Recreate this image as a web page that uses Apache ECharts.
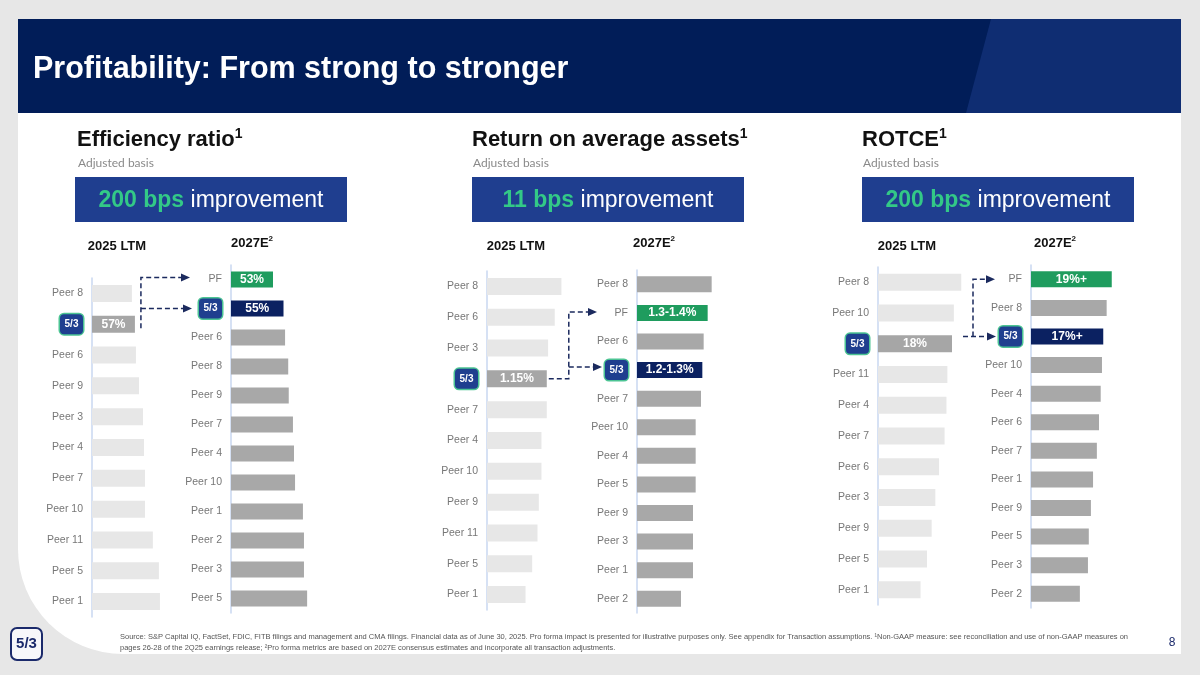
<!DOCTYPE html>
<html><head><meta charset="utf-8">
<script src="https://cdn.jsdelivr.net/npm/echarts@6/dist/echarts.min.js"></script>
<style>html,body{margin:0;padding:0;background:#e7e7e7}#c{width:1200px;height:675px}</style>
</head><body><div id="c"></div>
<script>
// ---------------- DATA ----------------
const effLtmCats = ['Peer 8','FITB','Peer 6','Peer 9','Peer 3','Peer 4','Peer 7','Peer 10','Peer 11','Peer 5','Peer 1'];
const effLtmVals = [55.8,57,57.4,58.6,60.2,60.6,61.0,61.0,64.1,66.5,66.9];
const effLtmLabels = {FITB:'57%'};
const effEstCats = ['PF','FITB','Peer 6','Peer 8','Peer 9','Peer 7','Peer 4','Peer 10','Peer 1','Peer 2','Peer 3','Peer 5'];
const effEstVals = [53,55,55.3,55.9,56.0,56.8,57.0,57.2,58.7,58.9,58.9,59.5];
const effEstLabels = {PF:'53%', FITB:'55%'};

const roaaLtmCats = ['Peer 8','Peer 6','Peer 3','FITB','Peer 7','Peer 4','Peer 10','Peer 9','Peer 11','Peer 5','Peer 1'];
const roaaLtmVals = [1.26,1.21,1.16,1.15,1.15,1.11,1.11,1.09,1.08,1.04,0.99];
const roaaLtmLabels = {FITB:'1.15%'};
const roaaEstCats = ['Peer 8','PF','Peer 6','FITB','Peer 7','Peer 10','Peer 4','Peer 5','Peer 9','Peer 3','Peer 1','Peer 2'];
const roaaEstVals = [1.36,1.33,1.30,1.29,1.28,1.24,1.24,1.24,1.22,1.22,1.22,1.13];
const roaaEstLabels = {PF:'1.3-1.4%', FITB:'1.2-1.3%'};

const rotceLtmCats = ['Peer 8','Peer 10','FITB','Peer 11','Peer 4','Peer 7','Peer 6','Peer 3','Peer 9','Peer 5','Peer 1'];
const rotceLtmVals = [19.0,18.2,18,17.5,17.4,17.2,16.6,16.2,15.8,15.3,14.6];
const rotceLtmLabels = {FITB:'18%'};
const rotceEstCats = ['PF','Peer 8','FITB','Peer 10','Peer 4','Peer 6','Peer 7','Peer 1','Peer 9','Peer 5','Peer 3','Peer 2'];
const rotceEstVals = [19,17.8,17,16.7,16.4,16.0,15.5,14.6,14.1,13.6,13.4,11.5];
const rotceEstLabels = {PF:'19%+', FITB:'17%+'};

const panelTitles = ['Efficiency ratio','Return on average assets','ROTCE'];
const panelSubtitle = 'Adjusted basis';
const improvements = ['200 bps','11 bps','200 bps'];
const colLtm = '2025 LTM';
const colEst = '2027E';
const pageTitle = 'Profitability: From strong to stronger';
const footLine1 = 'Source: S&P Capital IQ, FactSet, FDIC, FITB filings and management and CMA filings. Financial data as of June 30, 2025. Pro forma impact is presented for illustrative purposes only. See appendix for Transaction assumptions. \u00B9Non-GAAP measure: see reconciliation and use of non-GAAP measures on';
const footLine2 = 'pages 26-28 of the 2Q25 earnings release; \u00B2Pro forma metrics are based on 2027E consensus estimates and incorporate all transaction adjustments.';

// ---------------- LAYOUT ----------------
const FONT = '"Liberation Sans", Arial, sans-serif';
const columns = [
  {cats:effLtmCats, vals:effLtmVals, labels:effLtmLabels, kind:'ltm'},
  {cats:effEstCats, vals:effEstVals, labels:effEstLabels, kind:'est'},
  {cats:roaaLtmCats, vals:roaaLtmVals, labels:roaaLtmLabels, kind:'ltm'},
  {cats:roaaEstCats, vals:roaaEstVals, labels:roaaEstLabels, kind:'est'},
  {cats:rotceLtmCats, vals:rotceLtmVals, labels:rotceLtmLabels, kind:'ltm'},
  {cats:rotceEstCats, vals:rotceEstVals, labels:rotceEstLabels, kind:'est'}
];
const layout = [
  {left:92, top:278, height:339, width:101, min:40, max:80},
  {left:231, top:265, height:348, width:84, min:45, max:61},
  {left:487, top:271, height:339, width:93, min:0.7, max:1.4},
  {left:637, top:270, height:343, width:80, min:0.8, max:1.4},
  {left:878, top:267, height:338, width:92.5, min:10, max:20},
  {left:1031, top:265, height:343, width:85, min:0, max:20}
];
const panelX = [77, 472, 862];
const boxX = [75, 472, 862];
const ltmCenter = [117, 516, 907];
const estLeft = [231, 633, 1034];

function barColor(kind, cat){
  if (cat === 'PF') return '#1f9c5e';
  if (cat === 'FITB') return kind === 'ltm' ? '#a6a6a6' : '#0b2161';
  return kind === 'ltm' ? '#e7e7e7' : '#a8a8a8';
}

const chart = echarts.init(document.getElementById('c'), null, {renderer:'canvas'});

const logoRich = {
  logo: {color:'#fff', fontWeight:'bold', fontSize:10, fontFamily:FONT, backgroundColor:'#1f3f8f',
         borderColor:'#4cc493', borderWidth:1.5, borderRadius:4, padding:[5,4,5,4], width:15, align:'center'}
};

const option = {
  animation:false,
  backgroundColor:'transparent',
  grid: layout.map(l => ({left:l.left, top:l.top, width:l.width, height:l.height, containLabel:false})),
  xAxis: layout.map((l,i) => ({type:'value', gridIndex:i, min:l.min, max:l.max, show:false})),
  yAxis: columns.map((c,i) => ({
    type:'category', gridIndex:i, data:c.cats, inverse:true,
    axisTick:{show:false},
    axisLine:{show:true, onZero:false, lineStyle:{color:'#c8d7f0', width:1.5}},
    splitLine:{show:false},
    axisLabel:{color:'#777', fontSize:10.5, fontFamily:FONT, margin:9,
      formatter: v => v === 'FITB' ? '{logo|5/3}' : v, rich: logoRich}
  })),
  series: columns.map((c,i) => ({
    type:'bar', xAxisIndex:i, yAxisIndex:i, barWidth: c.kind === 'ltm' ? 17 : 16, silent:true,
    data: c.vals.map((v,j) => {
      const cat = c.cats[j];
      const lab = c.labels[cat];
      return {value:v, itemStyle:{color:barColor(c.kind, cat)},
        label: lab ? {show:true, position:'inside', formatter:lab, color:'#fff', fontWeight:'bold', fontSize:12, fontFamily:FONT} : {show:false}};
    })
  }))
};
chart.setOption(option);

// ---------------- GRAPHICS ----------------
const g = [];
g.push({type:'rect', shape:{x:18, y:100, width:1163, height:554, r:[0,0,0,105]}, style:{fill:'#ffffff'}, z:-10});
g.push({type:'rect', shape:{x:18, y:19, width:1163, height:94}, style:{fill:'#011d58'}, z:-9});
g.push({type:'polygon', shape:{points:[[991,19],[1181,19],[1181,113],[966,113]]}, style:{fill:'#0f2d72'}, z:-8});
g.push({type:'text', x:33, y:70, style:{text:pageTitle, fill:'#fff', font:'bold 30.5px ' + FONT, verticalAlign:'middle'}, z:1});

for (let p = 0; p < 3; p++){
  g.push({type:'text', x:panelX[p], y:140, style:{text:'{t|' + panelTitles[p] + '}{s|1}', verticalAlign:'middle',
    rich:{t:{fontSize:22, fontWeight:'bold', fontFamily:FONT, fill:'#111', lineHeight:26},
          s:{fontSize:14, fontWeight:'bold', fontFamily:FONT, fill:'#111', lineHeight:15, verticalAlign:'top'}}}});
  g.push({type:'text', x:panelX[p]+1, y:163, style:{text:panelSubtitle, fill:'#8a8a8a', font:'12px Lato, "Open Sans", sans-serif', verticalAlign:'middle'}});
  g.push({type:'rect', shape:{x:boxX[p], y:177, width:272, height:45}, style:{fill:'#1f3e8f'}});
  g.push({type:'text', x:boxX[p]+136, y:201, style:{text:'{g|' + improvements[p] + '}{w|\u00A0improvement}', align:'center', verticalAlign:'middle',
    rich:{g:{fontSize:23, fontWeight:'bold', fontFamily:FONT, fill:'#33c987'}, w:{fontSize:23, fontFamily:FONT, fill:'#fff'}}}});
  g.push({type:'text', x:ltmCenter[p], y:246, style:{text:colLtm, fill:'#111', font:'bold 13px ' + FONT, align:'center', verticalAlign:'middle'}});
  g.push({type:'text', x:estLeft[p], y:243, style:{text:'{a|' + colEst + '}{s|2}', verticalAlign:'middle',
    rich:{a:{fontSize:13, fontWeight:'bold', fontFamily:FONT, fill:'#111', lineHeight:16},
          s:{fontSize:8, fontWeight:'bold', fontFamily:FONT, fill:'#111', lineHeight:9, verticalAlign:'top'}}}});
}

// connectors (anchored to the bars via axis conversion)
const DASH = {stroke:'#1b2a5e', lineWidth:1.5, lineDash:[5,3], fill:null};
function line(points){ g.push({type:'polyline', shape:{points}, style:DASH, z:5}); }
function arrow(tx, ty){ g.push({type:'polygon', shape:{points:[[tx-9,ty-4],[tx,ty],[tx-9,ty+4]]}, style:{fill:'#1b2a5e'}, z:5}); }
function px(gi, val, cat){ return chart.convertToPixel({gridIndex:gi}, [val, cat]); }

// Panel 1
(function(){
  const a = px(0, effLtmVals[effLtmCats.indexOf('FITB')], 'FITB');
  const pf = px(1, layout[1].min, 'PF');
  const fi = px(1, layout[1].min, 'FITB');
  const vx = a[0] + 6;
  line([[vx, a[1]+4],[vx, pf[1]-2],[pf[0]-49, pf[1]-2]]); arrow(pf[0]-41, pf[1]-2);
  line([[vx, fi[1]],[fi[0]-47, fi[1]]]); arrow(fi[0]-39, fi[1]);
})();
// Panel 2
(function(){
  const a = px(2, roaaLtmVals[roaaLtmCats.indexOf('FITB')], 'FITB');
  const pf = px(3, layout[3].min, 'PF');
  const fi = px(3, layout[3].min, 'FITB');
  const vx = a[0] + 22;
  line([[a[0]+2, a[1]],[vx, a[1]],[vx, pf[1]-1],[pf[0]-48, pf[1]-1]]); arrow(pf[0]-40, pf[1]-1);
  line([[vx, fi[1]-3],[fi[0]-43, fi[1]-3]]); arrow(fi[0]-35, fi[1]-3);
})();
// Panel 3
(function(){
  const a = px(4, rotceLtmVals[rotceLtmCats.indexOf('FITB')], 'FITB');
  const pf = px(5, layout[5].min, 'PF');
  const fi = px(5, layout[5].min, 'FITB');
  const vx = a[0] + 21;
  line([[a[0]+11, fi[1]],[fi[0]-43, fi[1]]]); arrow(fi[0]-35, fi[1]);
  line([[vx, fi[1]],[vx, pf[1]],[pf[0]-44, pf[1]]]); arrow(pf[0]-36, pf[1]);
})();

// footer
g.push({type:'rect', shape:{x:11, y:628, width:31, height:32, r:6}, style:{fill:'#f7f7fa', stroke:'#1b2a6b', lineWidth:2}});
g.push({type:'text', x:26.5, y:644, style:{text:'5/3', fill:'#1b2a6b', font:'bold 15px ' + FONT, align:'center', verticalAlign:'middle'}});
g.push({type:'text', x:120, y:637, style:{text:footLine1, fill:'#555', font:'7.5px ' + FONT, verticalAlign:'middle'}});
g.push({type:'text', x:120, y:648, style:{text:footLine2, fill:'#555', font:'7.5px ' + FONT, verticalAlign:'middle'}});
g.push({type:'text', x:1172, y:643, style:{text:'8', fill:'#1b2a6b', font:'12px ' + FONT, align:'center', verticalAlign:'middle'}});

chart.setOption({graphic:{elements:g}});
</script>
</body></html>
